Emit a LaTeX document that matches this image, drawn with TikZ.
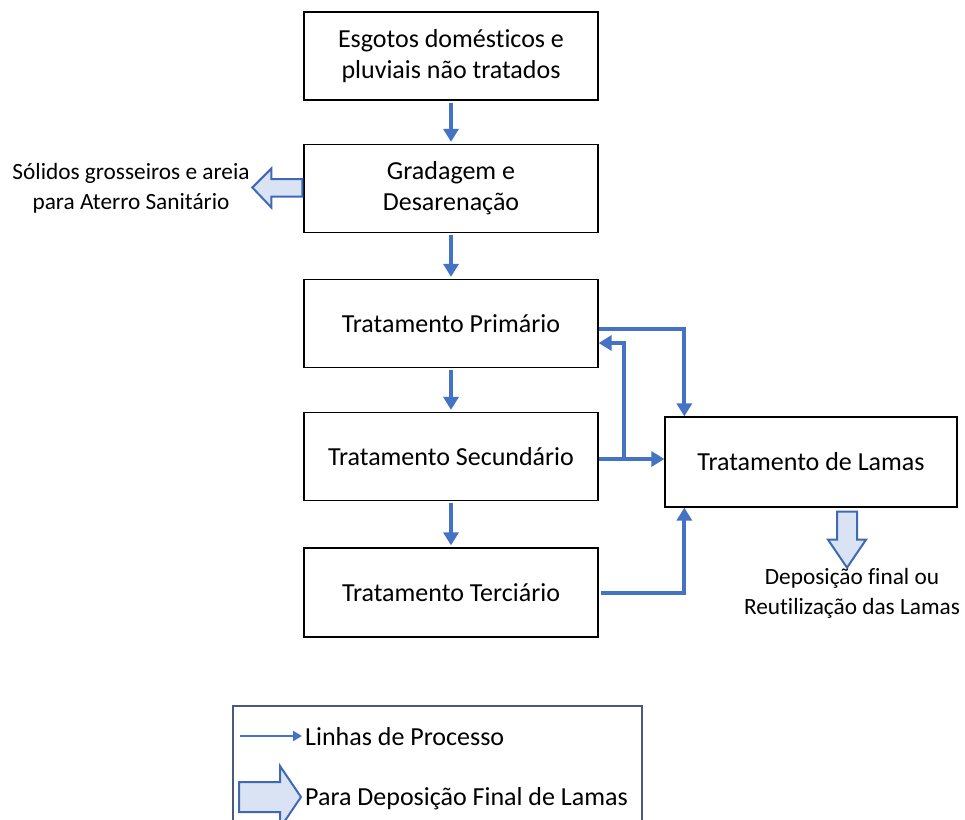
\documentclass[tikz,border=0pt]{standalone}
\usepackage{fontspec}
\setmainfont{Carlito}[Ligatures=NoCommon]
\usetikzlibrary{calc,arrows.meta}
\definecolor{flowblue}{HTML}{4472C4}
\definecolor{blockfill}{HTML}{DAE3F3}
\definecolor{blockedge}{HTML}{3F69B5}
\definecolor{legendedge}{HTML}{4A5A7A}
\begin{document}
\begin{tikzpicture}[x=1pt,y=-1pt,
  box/.style={draw=black,line width=1.3pt,minimum width=294pt,minimum height=88pt,align=center,
    font=\fontsize{26}{31}\selectfont,inner sep=0pt},
  flow/.style={draw=flowblue,line width=4pt,line join=miter,-{Triangle[length=13pt,width=15pt]}},
  thinflow/.style={draw=flowblue,line width=2.5pt,-{Triangle[length=9pt,width=10pt]}},
  blockarrow/.style={draw=blockedge,fill=blockfill,line width=2pt,line join=miter},
  side/.style={font=\fontsize{23.3}{30}\selectfont,align=center,inner sep=0pt},
  legtext/.style={font=\fontsize{26}{30}\selectfont,anchor=west,inner sep=0pt}]
\useasboundingbox (0,0) rectangle (965,819);

% process boxes
\node[box] (b1) at (451,56) {Esgotos domésticos e\\pluviais não tratados};
\node[box] (b2) at (451,188.5) {Gradagem e\\Desarenação};
\node[box] (b3) at (451,323.5) {Tratamento Primário};
\node[box] (b4) at (451,456.5) {Tratamento Secundário};
\node[box,minimum height=89pt] (b5) at (451,592.5) {Tratamento Terciário};
\node[box,minimum width=292pt,minimum height=90pt] (b6) at (811,462) {Tratamento de Lamas};

% main flow
\draw[flow,shorten <=2pt,shorten >=2pt] (b1) -- (b2);
\draw[flow,shorten <=2pt,shorten >=2pt] (b2) -- (b3);
\draw[flow,shorten <=2pt,shorten >=2pt] (b3) -- (b4);
\draw[flow,shorten <=2pt,shorten >=2pt] (b4) -- (b5);

% sludge lines
\draw[flow] ($(b3.east)+(0,5)$) -| ($(b6.north west)+(20,0)$);
\coordinate (split) at ($(b4.east |- b6.west)+(25,-3)$);
\draw[flow] ($(b4.east |- b6.west)+(0,-3)$) -- ($(b6.west)+(0,-3)$);
\draw[flow] (split) |- ($(b3.east)+(0,19.5)$);
\draw[flow] ($(b5.east)+(2,0)$) -| ($(b6.south west)+(20,0)$);

% block arrows
\begin{scope}[shift={(b2.west)}]
  \draw[blockarrow] (-1,-9.5) -- (-32,-9.5) -- (-32,-20) -- (-51,-1) -- (-32,19) -- (-32,8) -- (-1,8) -- cycle;
\end{scope}
\node[side] (solidos) at (131,188) {Sólidos grosseiros e areia\\para Aterro Sanitário};

\begin{scope}[shift={(b6.south)}]
  \draw[blockarrow] (26,4) -- (26,32) -- (17,32) -- (36,60) -- (55,32) -- (46,32) -- (46,4) -- cycle;
\end{scope}
\node[side] (depos) at (852,593) {Deposição final ou\\Reutilização das Lamas};

% legend
\draw[legendedge,line width=1.3pt] (233,706) rectangle (642,840);
\coordinate (l1s) at (240,736);
\coordinate (l1e) at (302,736);
\draw[thinflow] (l1s) -- (l1e);
\node[legtext] (leg1) at (305,737) {Linhas de Processo};
\draw[blockarrow] (239,782) -- (280,782) -- (280,766) -- (301,797) -- (280,828) -- (280,812) -- (239,812) -- cycle;
\node[legtext] (leg2) at (305,799) {Para Deposição Final de Lamas};
\end{tikzpicture}
\end{document}
